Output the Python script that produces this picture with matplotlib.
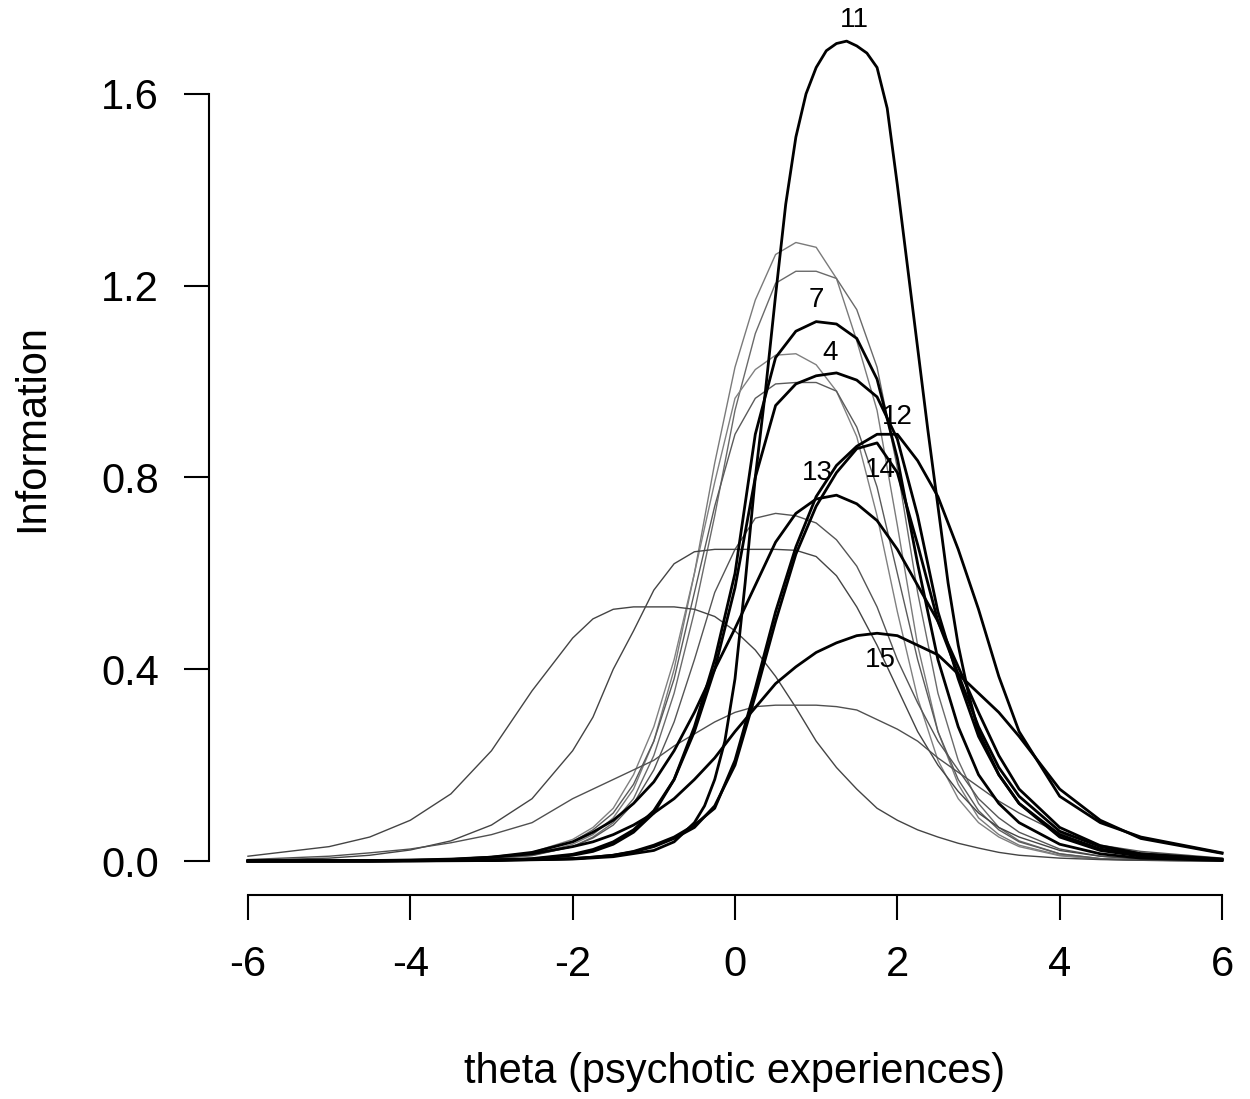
import matplotlib
matplotlib.use("Agg")
import matplotlib.pyplot as plt

# theta grid the curves were read at
theta = [-6, -5, -4.5, -4, -3.5, -3, -2.5, -2, -1.75, -1.5, -1.25, -1, -0.75, -0.5,
         -0.25, 0, 0.25, 0.5, 0.75, 1, 1.25, 1.5, 1.75, 2, 2.25, 2.5, 2.75, 3,
         3.25, 3.5, 4, 4.5, 5, 6]

# item 11 is steep, so it was read on a finer grid
theta_11 = [-6, -4, -3, -2, -1.5, -1, -0.75, -0.5, -0.375, -0.25, -0.125, 0, 0.125, 0.25,
            0.375, 0.5, 0.625, 0.75, 0.875, 1, 1.125, 1.25, 1.375, 1.5, 1.625, 1.75, 1.875,
            2, 2.125, 2.25, 2.375, 2.5, 2.625, 2.75, 2.875, 3, 3.25, 3.5, 4, 4.5, 5, 6]

# unlabelled items (thin grey curves)
info_1 = [0, 0, 0.0005, 0.001, 0.002, 0.005, 0.013, 0.035, 0.055, 0.09, 0.15, 0.25, 0.40, 0.60,
          0.83, 1.03, 1.17, 1.265, 1.29, 1.28, 1.215, 1.085, 0.94, 0.70, 0.45, 0.27, 0.16, 0.09,
          0.055, 0.033, 0.012, 0.004, 0.0015, 0]
info_2 = [0, 0, 0.0005, 0.001, 0.0015, 0.004, 0.011, 0.03, 0.05, 0.08, 0.13, 0.22, 0.35, 0.52,
          0.72, 0.94, 1.10, 1.205, 1.23, 1.23, 1.215, 1.15, 1.03, 0.82, 0.56, 0.35, 0.21, 0.12,
          0.07, 0.042, 0.015, 0.005, 0.002, 0]
info_3 = [0, 0.0003, 0.0006, 0.001, 0.003, 0.007, 0.018, 0.045, 0.07, 0.11, 0.18, 0.28, 0.42, 0.60,
          0.79, 0.965, 1.025, 1.055, 1.058, 1.035, 0.98, 0.885, 0.72, 0.52, 0.34, 0.21, 0.13, 0.08,
          0.05, 0.03, 0.011, 0.004, 0.0015, 0]
info_5 = [0, 0.0003, 0.0006, 0.001, 0.0025, 0.006, 0.016, 0.04, 0.065, 0.10, 0.16, 0.25, 0.38, 0.56,
          0.74, 0.89, 0.965, 0.995, 0.998, 0.998, 0.98, 0.905, 0.78, 0.60, 0.42, 0.27, 0.17, 0.105,
          0.065, 0.04, 0.015, 0.005, 0.002, 0]
info_6 = [0, 0.0003, 0.0006, 0.001, 0.002, 0.005, 0.012, 0.03, 0.048, 0.075, 0.12, 0.19, 0.29, 0.42,
          0.56, 0.65, 0.715, 0.725, 0.72, 0.705, 0.67, 0.615, 0.53, 0.42, 0.33, 0.25, 0.19, 0.13,
          0.09, 0.06, 0.025, 0.01, 0.004, 0.0005]
info_8 = [0.0015, 0.006, 0.012, 0.023, 0.042, 0.075, 0.13, 0.23, 0.30, 0.40, 0.48, 0.565, 0.62, 0.645,
          0.65, 0.65, 0.65, 0.65, 0.648, 0.635, 0.595, 0.53, 0.45, 0.36, 0.27, 0.20, 0.145, 0.10,
          0.07, 0.05, 0.022, 0.01, 0.004, 0.0006]
info_9 = [0.01, 0.03, 0.05, 0.085, 0.14, 0.23, 0.355, 0.465, 0.505, 0.525, 0.53, 0.53, 0.53, 0.525,
          0.51, 0.48, 0.44, 0.385, 0.32, 0.25, 0.195, 0.15, 0.11, 0.085, 0.065, 0.05, 0.037, 0.027,
          0.018, 0.012, 0.006, 0.003, 0.0015, 0.0003]
info_10 = [0.003, 0.01, 0.017, 0.025, 0.038, 0.055, 0.08, 0.13, 0.15, 0.17, 0.19, 0.21, 0.24, 0.265,
           0.29, 0.31, 0.322, 0.325, 0.325, 0.325, 0.322, 0.315, 0.295, 0.275, 0.25, 0.215, 0.185, 0.155,
           0.125, 0.10, 0.058, 0.033, 0.02, 0.006]

# labelled items (thick black curves)
info_4 = [0, 0, 0, 0.0005, 0.001, 0.0015, 0.005, 0.014, 0.024, 0.04, 0.065, 0.105, 0.17, 0.27,
          0.40, 0.57, 0.80, 0.95, 0.995, 1.012, 1.018, 1.003, 0.968, 0.88, 0.72, 0.52, 0.38, 0.26,
          0.18, 0.12, 0.05, 0.022, 0.01, 0.002]
info_7 = [0, 0, 0, 0.0005, 0.001, 0.0015, 0.004, 0.012, 0.02, 0.035, 0.06, 0.10, 0.17, 0.28,
          0.42, 0.60, 0.89, 1.05, 1.105, 1.125, 1.12, 1.09, 1.005, 0.84, 0.62, 0.42, 0.28, 0.18,
          0.12, 0.08, 0.035, 0.015, 0.006, 0.001]
info_11 = [0, 0, 0.001, 0.004, 0.009, 0.022, 0.04, 0.08, 0.115, 0.17, 0.25, 0.38, 0.58, 0.80,
           0.98, 1.18, 1.37, 1.51, 1.60, 1.655, 1.69, 1.705, 1.71, 1.70, 1.685, 1.655, 1.57,
           1.41, 1.24, 1.07, 0.90, 0.74, 0.58, 0.45, 0.35, 0.27, 0.18, 0.12, 0.055, 0.025, 0.012, 0.003]
info_12 = [0, 0, 0, 0.001, 0.001, 0.002, 0.003, 0.005, 0.008, 0.012, 0.02, 0.033, 0.05, 0.075,
           0.11, 0.21, 0.36, 0.52, 0.655, 0.76, 0.825, 0.865, 0.89, 0.89, 0.835, 0.76, 0.65, 0.525,
           0.385, 0.27, 0.135, 0.08, 0.05, 0.017]
info_13 = [0, 0.0005, 0.001, 0.0015, 0.003, 0.008, 0.018, 0.04, 0.06, 0.085, 0.12, 0.165, 0.23, 0.31,
           0.40, 0.485, 0.575, 0.665, 0.725, 0.755, 0.763, 0.745, 0.71, 0.65, 0.575, 0.50, 0.405, 0.31,
           0.22, 0.15, 0.07, 0.032, 0.015, 0.003]
info_14 = [0, 0, 0, 0.001, 0.001, 0.002, 0.003, 0.005, 0.008, 0.012, 0.019, 0.03, 0.047, 0.07,
           0.115, 0.20, 0.345, 0.50, 0.64, 0.74, 0.81, 0.86, 0.872, 0.81, 0.66, 0.50, 0.39, 0.28,
           0.195, 0.135, 0.062, 0.03, 0.015, 0.004]
info_15 = [0, 0.0005, 0.001, 0.002, 0.004, 0.008, 0.015, 0.03, 0.04, 0.055, 0.075, 0.10, 0.13, 0.17,
           0.215, 0.27, 0.32, 0.37, 0.405, 0.435, 0.455, 0.47, 0.475, 0.47, 0.45, 0.43, 0.39, 0.35,
           0.31, 0.26, 0.15, 0.085, 0.047, 0.016]

grey_items = [info_1, info_2, info_3, info_5, info_6, info_8, info_9, info_10]
grey_colors = ["#7a7a7a", "#6a6a6a", "#808080", "#5a5a5a", "#555555", "#444444", "#444444", "#505050"]

black_items = {4: (theta, info_4), 7: (theta, info_7), 11: (theta_11, info_11),
               12: (theta, info_12), 13: (theta, info_13), 14: (theta, info_14),
               15: (theta, info_15)}

# where each item number sits relative to its curve's peak
label_offsets = {11: (0.10, 0.045), 7: (0.0, 0.045), 4: (-0.08, 0.042), 12: (0.25, 0.036),
                 13: (-0.24, 0.047), 14: (0.04, -0.056), 15: (0.04, -0.055)}

x_ticks = [-6, -4, -2, 0, 2, 4, 6]
y_ticks = [0.0, 0.4, 0.8, 1.2, 1.6]

font = ["Liberation Sans", "DejaVu Sans"]

fig = plt.figure(figsize=(12.5, 10.99), dpi=100)
ax = fig.add_axes([209 / 1250, (1099 - 895) / 1099, 1052 / 1250, 886 / 1099])

for vals, col in zip(grey_items, grey_colors):
    ax.plot(theta, vals, color=col, lw=1.0)

for num, (xs, vals) in black_items.items():
    ax.plot(xs, vals, color="black", lw=2.0)
    peak = max(vals)
    t_peak = xs[vals.index(peak)]
    dx, dy = label_offsets[num]
    ax.text(t_peak + dx, peak + dy, str(num), fontsize=20, ha="center", va="center", family=font)

ax.set_xlim(-6.48, 6.48)
ax.set_ylim(-0.0709, 1.777)

for side in ("top", "right"):
    ax.spines[side].set_visible(False)
ax.spines["left"].set_bounds(0, 1.6)
ax.spines["bottom"].set_bounds(-6, 6)
ax.spines["left"].set_linewidth(1.5)
ax.spines["bottom"].set_linewidth(1.5)

ax.set_xticks(x_ticks)
ax.set_xticklabels([str(t) for t in x_ticks], family=font, fontsize=30)
ax.set_yticks(y_ticks)
ax.set_yticklabels([f"{t:.1f}" for t in y_ticks], family=font, fontsize=30)
ax.tick_params(axis="both", length=18, width=1.5, direction="out")
ax.tick_params(axis="x", pad=18)
ax.tick_params(axis="y", pad=18)

ax.set_xlabel("theta (psychotic experiences)", family=font, fontsize=30)
ax.set_ylabel("Information", family=font, fontsize=30)
ax.xaxis.set_label_coords(0.5, -0.177)
ax.yaxis.set_label_coords(-0.149, 0.527)

fig.savefig("out.png", dpi=100)
